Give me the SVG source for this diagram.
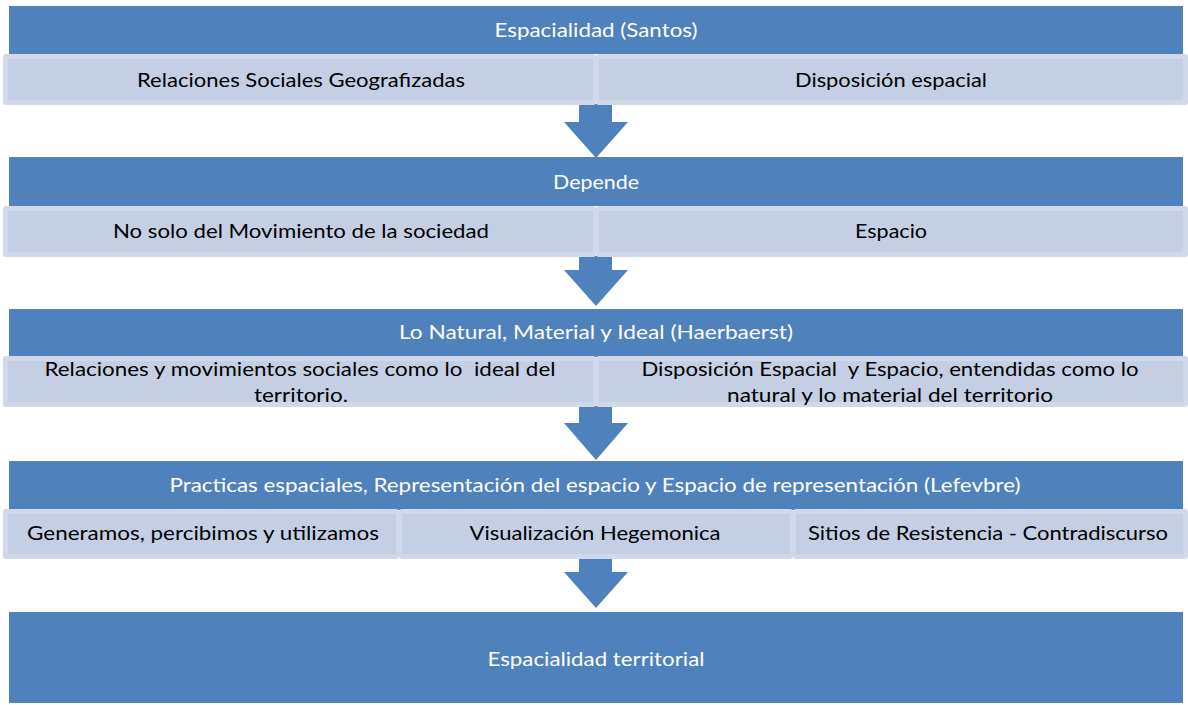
<svg xmlns="http://www.w3.org/2000/svg" width="1188" height="705" viewBox="0 0 1188 705">
<style>
.banner{fill:#4f81bd}
.cellOut{fill:#d0d8e9}
.cellIn{fill:#c4cfe3}
.arrow{fill:#4f81bd}
text{font-family:Lato,"Liberation Sans",Arial,sans-serif;font-size:20px;text-anchor:middle;white-space:pre}
.w{fill:#ffffff}
.k{fill:#000000}
</style>
<rect width="1188" height="705" fill="#ffffff"/>
<g id="connectors">
<polygon class="arrow" points="579,104 612,104 612,122 628,122 596,158 564,122 579,122"/>
<polygon class="arrow" points="579,256 612,256 612,270 628,270 596,306 564,270 579,270"/>
<polygon class="arrow" points="579,406 612,406 612,423 628,423 596,460 564,423 579,423"/>
<polygon class="arrow" points="579,558 612,558 612,572 628,572 596,608 564,572 579,572"/>
</g>
<g id="banner1"><rect class="banner" x="9" y="6" width="1174" height="48"/><text class="w" x="596" y="37" textLength="203" lengthAdjust="spacingAndGlyphs">Espacialidad (Santos)</text></g>
<g id="cell1a"><rect class="cellOut" x="3" y="54" width="593" height="51" rx="3"/><rect class="cellIn" x="8" y="59" width="585" height="41"/><text class="k" x="301" y="87" textLength="328" lengthAdjust="spacingAndGlyphs">Relaciones Sociales Geografizadas</text></g>
<g id="cell1b"><rect class="cellOut" x="596" y="54" width="592" height="51" rx="3"/><rect class="cellIn" x="599" y="59" width="584" height="41"/><text class="k" x="891" y="87" textLength="192" lengthAdjust="spacingAndGlyphs">Disposición espacial</text></g>
<g id="banner2"><rect class="banner" x="9" y="157" width="1174" height="49"/><text class="w" x="596" y="189" textLength="86" lengthAdjust="spacingAndGlyphs">Depende</text></g>
<g id="cell2a"><rect class="cellOut" x="3" y="206" width="593" height="51" rx="3"/><rect class="cellIn" x="8" y="211" width="585" height="41"/><text class="k" x="301" y="238" textLength="376" lengthAdjust="spacingAndGlyphs">No solo del Movimiento de la sociedad</text></g>
<g id="cell2b"><rect class="cellOut" x="596" y="206" width="592" height="51" rx="3"/><rect class="cellIn" x="599" y="211" width="584" height="41"/><text class="k" x="891" y="238" textLength="72" lengthAdjust="spacingAndGlyphs">Espacio</text></g>
<g id="banner3"><rect class="banner" x="9" y="309" width="1174" height="48"/><text class="w" x="596" y="339" textLength="394" lengthAdjust="spacingAndGlyphs">Lo Natural, Material y Ideal (Haerbaerst)</text></g>
<g id="cell3a"><rect class="cellOut" x="3" y="356" width="593" height="51" rx="3"/><rect class="cellIn" x="8" y="361" width="585" height="41"/><text class="k" x="300" y="376" textLength="511" lengthAdjust="spacingAndGlyphs">Relaciones y movimientos sociales como lo  ideal del</text><text class="k" x="301" y="402" textLength="94" lengthAdjust="spacingAndGlyphs">territorio.</text></g>
<g id="cell3b"><rect class="cellOut" x="596" y="356" width="592" height="51" rx="3"/><rect class="cellIn" x="599" y="361" width="584" height="41"/><text class="k" x="890" y="376" textLength="497" lengthAdjust="spacingAndGlyphs">Disposición Espacial  y Espacio, entendidas como lo</text><text class="k" x="890" y="402" textLength="326" lengthAdjust="spacingAndGlyphs">natural y lo material del territorio</text></g>
<g id="banner4"><rect class="banner" x="9" y="461" width="1174" height="49"/><text class="w" x="595" y="492" textLength="851" lengthAdjust="spacingAndGlyphs">Practicas espaciales, Representación del espacio y Espacio de representación (Lefevbre)</text></g>
<g id="cell4a"><rect class="cellOut" x="3" y="509" width="396" height="50" rx="3"/><rect class="cellIn" x="8" y="514" width="388" height="40"/><text class="k" x="203" y="540" textLength="352" lengthAdjust="spacingAndGlyphs">Generamos, percibimos y utilizamos</text></g>
<g id="cell4b"><rect class="cellOut" x="399" y="509" width="394" height="50" rx="3"/><rect class="cellIn" x="402" y="514" width="388" height="40"/><text class="k" x="595" y="540" textLength="251" lengthAdjust="spacingAndGlyphs">Visualización Hegemonica</text></g>
<g id="cell4c"><rect class="cellOut" x="793" y="509" width="395" height="50" rx="3"/><rect class="cellIn" x="796" y="514" width="387" height="40"/><text class="k" x="988" y="540" textLength="360" lengthAdjust="spacingAndGlyphs">Sitios de Resistencia - Contradiscurso</text></g>
<g id="final"><rect class="banner" x="9" y="612" width="1174" height="91"/><text class="w" x="596" y="666" textLength="217" lengthAdjust="spacingAndGlyphs">Espacialidad territorial</text></g>
</svg>
